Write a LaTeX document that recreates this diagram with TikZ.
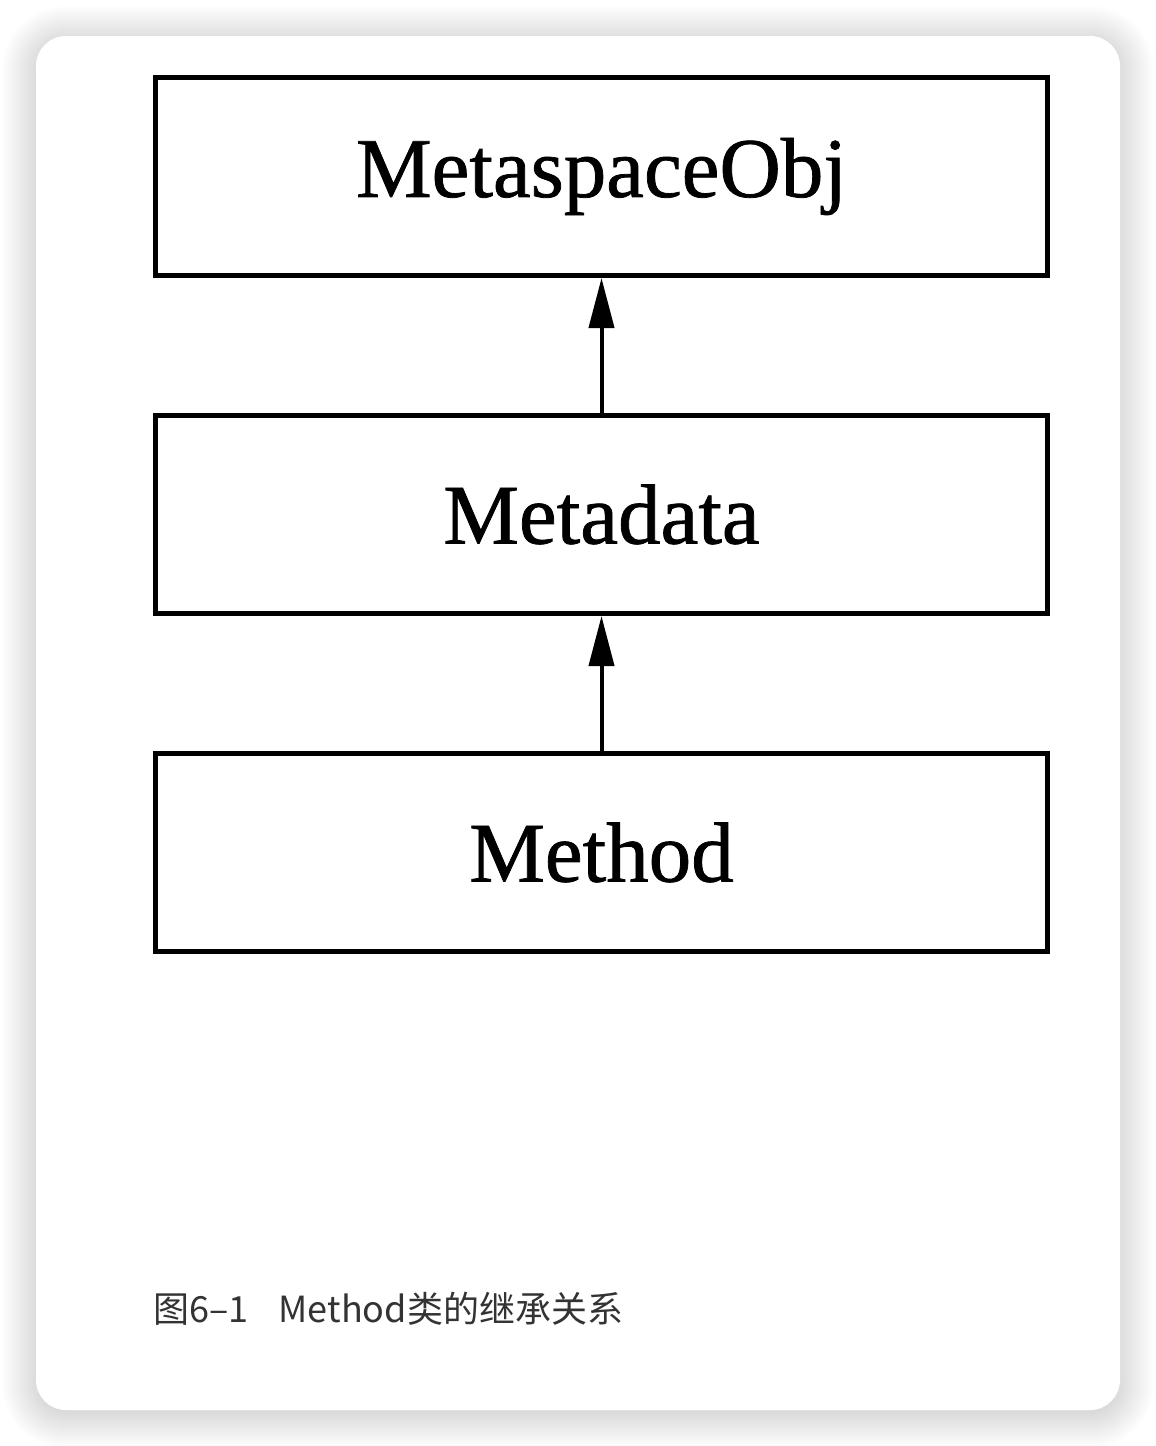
\documentclass[tikz,border=0pt]{standalone}
\usepackage{fontspec}
\setmainfont{Liberation Serif}
\newfontfamily\boxfont[FakeBold=0.9]{Liberation Serif}
\newfontfamily\cjk{Noto Sans CJK SC}
\usetikzlibrary{positioning,arrows.meta}

\begin{document}
\begin{tikzpicture}[
    x = 0.5pt, y = -0.5pt,
    classbox/.style = {
      rectangle, line width = 2.5pt,
      draw = black, fill = white,
      minimum width = 446pt, minimum height = 99pt,
      inner sep = 0pt,
      font = \boxfont\fontsize{42.5}{48}\selectfont,
    },
    inherit/.style = {
      line width = 2pt,
      -{Triangle[length = 25pt, width = 12.5pt]},
    },
  ]
        \useasboundingbox (0,0) rectangle (1156,1446);

        % card and its soft shadow
        \foreach \i [evaluate = \i as \r using 15 + \i] in {0,...,17}
          \fill[black, opacity = 0.008, rounded corners = \r pt]
            ({36 - 2*\i}, {40 - 2*\i}) rectangle ({1120 + 2*\i}, {1414 + 2*\i});
        \fill[white, rounded corners = 15pt] (36,36) rectangle (1120,1410);

        \node[classbox] (mso) at (601.5,176.5) {MetaspaceObj};

        \node[
          classbox,
          below = 67.5pt of mso,
        ] (meta) {Metadata};

        \node[
          classbox,
          below = 67.5pt of meta,
        ] (method) {Method};

        \draw[inherit] (meta.north) -- (mso.south);
        \draw[inherit] (method.north) -- (meta.south);

        \node[
          anchor = west, inner sep = 0pt,
          text = black!80,
          font = \cjk\fontsize{18}{22}\selectfont,
        ] (caption) at (153,1309) {图6–1\hspace{15pt}Method类的继承关系};
      \end{tikzpicture}
\end{document}
